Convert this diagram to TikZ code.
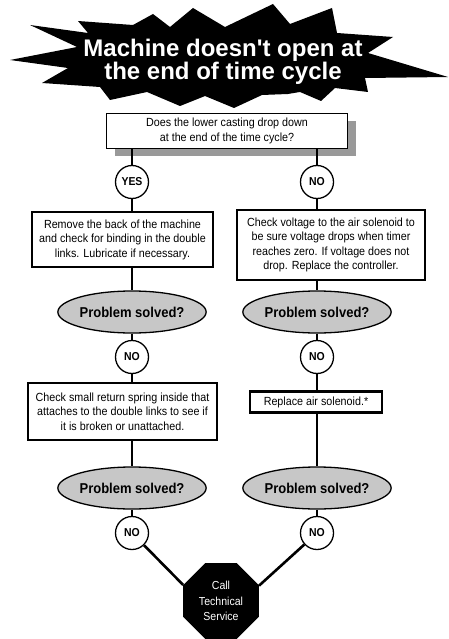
\documentclass[tikz,border=0pt]{standalone}
\usepackage{fontspec}
\setmainfont{Liberation Sans}
\newfontfamily\narrowsans{Liberation Sans}[FakeStretch=0.91]
\usetikzlibrary{shapes.geometric,shadows}

\begin{document}
\begin{tikzpicture}[x=1pt,y=-1pt,
  link/.style={line width=2.6pt},
  stepbox/.style={draw,line width=2.6pt,fill=white,align=center,inner sep=0pt,font=\narrowsans\fontsize{11.8}{14.5}\selectfont},
  answer/.style={circle,draw,line width=1.3pt,fill=white,minimum size=33pt,inner sep=0pt,font=\narrowsans\bfseries\fontsize{11.5}{12}\selectfont},
  solved/.style={ellipse,draw,line width=1.3pt,fill=black!22,minimum width=120pt,minimum height=42pt,inner sep=0pt,font=\narrowsans\bfseries\fontsize{14.3}{15}\selectfont}]

\useasboundingbox (0,0) rectangle (449,639);

\fill (30,25) -- (88,33) -- (78,21) -- (133,25) -- (153,14) -- (170,27) -- (193,8) -- (225,27)
  -- (273,4) -- (290,24) -- (332,8) -- (337,33) -- (393,37) -- (368,53) -- (448,77) -- (365,78)
  -- (368,92) -- (335,88) -- (321,101) -- (300,92) -- (288,94) -- (262,95) -- (234,108) -- (205,96)
  -- (180,106) -- (147,92) -- (110,100) -- (100,87) -- (42,83) -- (68,68) -- (10,60) -- (77,47) -- cycle;
\node[white,align=center,font=\bfseries\fontsize{24}{20}\selectfont] (title) at (223,62) {Machine doesn\textquotesingle t open at\\the end of time cycle};

\node[draw,line width=1pt,fill=white,align=center,minimum width=241pt,minimum height=35pt,inner sep=0pt,
  drop shadow={shadow xshift=8pt,shadow yshift=-8pt,fill=black!40,opacity=1},
  font=\narrowsans\fontsize{11.8}{14.5}\selectfont] (q) at (227,131) {Does the lower casting drop down\\at the end of the time cycle?};

\node[answer] (yes) at (132,182) {YES};
\node[answer] (no1) at (317,182) {NO};

\node[stepbox,minimum width=181pt,minimum height=55pt] (fix1) at (122.5,239.5) {Remove the back of the machine\\and check for binding in the double\\links. Lubricate if necessary.};
\node[stepbox,minimum width=188pt,minimum height=70pt] (fix2) at (331,245) {Check voltage to the air solenoid to\\be sure voltage drops when timer\\reaches zero. If voltage does not\\drop. Replace the controller.};

\node[solved] (solved1) at (132,312) {Problem solved?};
\node[solved] (solved2) at (317,312) {Problem solved?};
\node[answer] (no2) at (132,357) {NO};
\node[answer] (no3) at (317,357) {NO};

\node[stepbox,minimum width=189pt,minimum height=57pt] (fix3) at (122.5,411.5) {Check small return spring inside that\\attaches to the double links to see if\\it is broken or unattached.};
\node[stepbox,minimum width=132pt,minimum height=21pt] (fix4) at (316,402) {Replace air solenoid.*};

\node[solved] (solved3) at (132,488) {Problem solved?};
\node[solved] (solved4) at (317,488) {Problem solved?};
\node[answer] (no4) at (132,533) {NO};
\node[answer] (no5) at (317,533) {NO};

\node[regular polygon,regular polygon sides=8,fill=black,minimum size=82pt,inner sep=0pt,text=white,align=center,
  font=\narrowsans\fontsize{11.6}{15.5}\selectfont] (call) at (221,601) {Call\\Technical\\Service};

\draw[link] (q.south -| yes) -- (yes);
\draw[link] (q.south -| no1) -- (no1);
\draw[link] (yes) -- (yes |- fix1.north);
\draw[link] (no1) -- (no1 |- fix2.north);
\draw[link] (fix1.south -| solved1) -- (solved1);
\draw[link] (fix2.south -| solved2) -- (solved2);
\draw[link] (solved1) -- (no2);
\draw[link] (solved2) -- (no3);
\draw[link] (no2) -- (no2 |- fix3.north);
\draw[link] (no3) -- (no3 |- fix4.north);
\draw[link] (fix3.south -| solved3) -- (solved3);
\draw[link] (fix4.south -| solved4) -- (solved4);
\draw[link] (solved3) -- (no4);
\draw[link] (solved4) -- (no5);
\draw[link] (no4) -- (call.157.5);
\draw[link] (no5) -- (call.22.5);

\end{tikzpicture}
\end{document}
